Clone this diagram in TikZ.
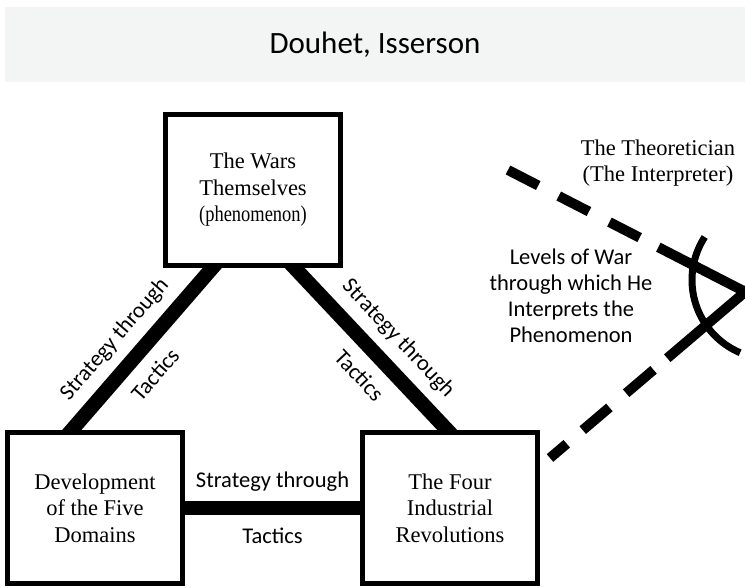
\documentclass[tikz,border=0pt]{standalone}
\usepackage{fontspec}
\setmainfont{Liberation Serif}
\newfontfamily\labelfont{Carlito}
\usetikzlibrary{backgrounds}
\definecolor{bandgray}{HTML}{F3F4F4}

\begin{document}
\begin{tikzpicture}[x=1pt, y=-1pt,
  box/.style={draw, line width=5.5pt, fill=white, minimum width=175pt,
    minimum height=151pt, inner sep=0pt, align=center,
    font=\fontsize{22.5}{26.5}\selectfont},
  link/.style={line width=14.5pt, shorten <=-8pt, shorten >=-8pt},
  lab/.style={font=\labelfont\fontsize{22.5}{26}\selectfont},
  eye/.style={line width=10pt}]
\useasboundingbox (0,0) rectangle (745,588);
\clip (0,0) rectangle (745,588);

% title band
\node[fill=bandgray, minimum width=740pt, minimum height=75pt, inner sep=0pt,
  font=\labelfont\fontsize{31}{36}\selectfont] (title) at (375,44.5) {Douhet, Isserson};

% the three boxes
\node[box] (wars) at (253,190) {The Wars\\Themselves\\{\addfontfeature{FakeStretch=0.82}(phenomenon)}};
\node[box] (domains) at (95,508) {Development\\of the Five\\Domains};
\node[box] (revol) at (450,508) {The Four\\Industrial\\Revolutions};

% thick links behind the boxes
\begin{scope}[on background layer]
\draw[link] ([xshift=-41pt]wars.south) --
  node[lab, sloped, above=6.5pt, pos=0.55] (lefttop) {Strategy through}
  node[lab, sloped, below=8pt, pos=0.55] (leftbot) {Tactics}
  ([xshift=-23pt]domains.north);
\draw[link] ([xshift=42pt]wars.south) --
  node[lab, sloped, above=6.5pt, pos=0.55] (righttop) {Strategy through}
  node[lab, sloped, below=8pt, pos=0.55] (rightbot) {Tactics}
  ([xshift=-3pt]revol.north);
\draw[link] (domains.east) --
  node[lab, above=6.5pt] (basetop) {Strategy through}
  node[lab, below=9pt] (basebot) {Tactics}
  (revol.west);
\end{scope}

% the interpreter
\node[align=center, font=\fontsize{22.5}{26.5}\selectfont] (theorist) at (658,163)
  {The Theoretician\\(The Interpreter)};
\node[lab, align=center] (levels) at (571,296)
  {Levels of War\\through which He\\Interprets the\\Phenomenon};

% eye: two lines of sight and the lens
\coordinate (upstart) at (508,170);
\coordinate (upend) at (765,302);
\coordinate (lowstart) at (550,458);
\coordinate (lowend) at (765,275);
\draw[eye, dash pattern=on 34pt off 23pt on 34pt off 23pt on 34pt off 21pt on 400pt]
  (upstart) -- (upend);
\draw[eye, dash pattern=on 22pt off 21pt on 35pt off 22pt on 36pt off 18pt on 400pt]
  (lowstart) -- (lowend);
\draw[line width=7pt] plot[domain=113:213, samples=40, smooth]
  ({771+79*cos(\x)}, {280+79*sin(\x)});
\end{tikzpicture}
\end{document}
